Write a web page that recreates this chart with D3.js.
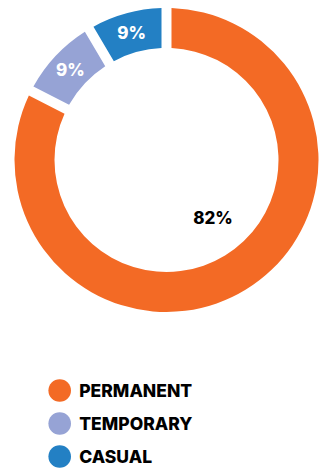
<!DOCTYPE html>
<html>
<head>
<meta charset="utf-8">
<script src="https://cdn.jsdelivr.net/npm/d3@7"></script>
<style>
  html, body { margin: 0; padding: 0; background: #ffffff; }
  svg { display: block; }
  text { font-family: Inter, "Open Sans", sans-serif; font-weight: 800; }
</style>
</head>
<body>
<div id="chart"></div>
<script>
const categories = ["PERMANENT", "TEMPORARY", "CASUAL"];
const values = [82.5, 9, 8.5];
const valueLabels = ["82%", "9%", "9%"];
const colors = ["#F36A25", "#96A3D5", "#2380C4"];

const width = 320, height = 472;
const cx = 166.5, cy = 160;
const outerR = 152, innerR = 112;
const gap = 10;

const svg = d3.select("#chart").append("svg")
  .attr("width", width).attr("height", height);

const data = categories.map((c, i) => ({ name: c, value: values[i], label: valueLabels[i], color: colors[i] }));

const pie = d3.pie().sort(null).value(d => d.value).startAngle(0).endAngle(2 * Math.PI);
const arcs = pie(data);

const arc = d3.arc().innerRadius(innerR).outerRadius(outerR)
  .padRadius(outerR).padAngle(gap / outerR);

const g = svg.append("g").attr("transform", `translate(${cx},${cy})`);

g.selectAll("path").data(arcs).join("path")
  .attr("d", arc)
  .attr("fill", d => d.data.color);

// labels
const bigLabelArc = d3.arc().innerRadius(74).outerRadius(74);
g.selectAll("text.val").data(arcs).join("text")
  .attr("class", "val")
  .attr("transform", (d, i) => {
    let p;
    if (i === 0) {
      const a = (d.startAngle + d.endAngle) / 2 - 0.13;
      p = bigLabelArc.centroid({ startAngle: a, endAngle: a });
    } else {
      p = arc.centroid(d);
    }
    return `translate(${p[0]},${p[1]})`;
  })
  .attr("text-anchor", "middle")
  .attr("dy", "0.36em")
  .attr("font-size", 17)
  .attr("fill", (d, i) => i === 0 ? "#000000" : "#ffffff")
  .text(d => d.data.label);

// legend
const legendY = d3.scalePoint().domain(categories).range([390.5, 456.5]);
const legend = svg.append("g");
const items = legend.selectAll("g").data(data).join("g")
  .attr("transform", d => `translate(59.7,${legendY(d.name)})`);
items.append("circle").attr("r", 11.3).attr("fill", d => d.color);
items.append("text")
  .attr("x", 19.5)
  .attr("dy", "0.36em")
  .attr("font-size", 17.5)
  .attr("fill", "#000")
  .text(d => d.name);
</script>
</body>
</html>
